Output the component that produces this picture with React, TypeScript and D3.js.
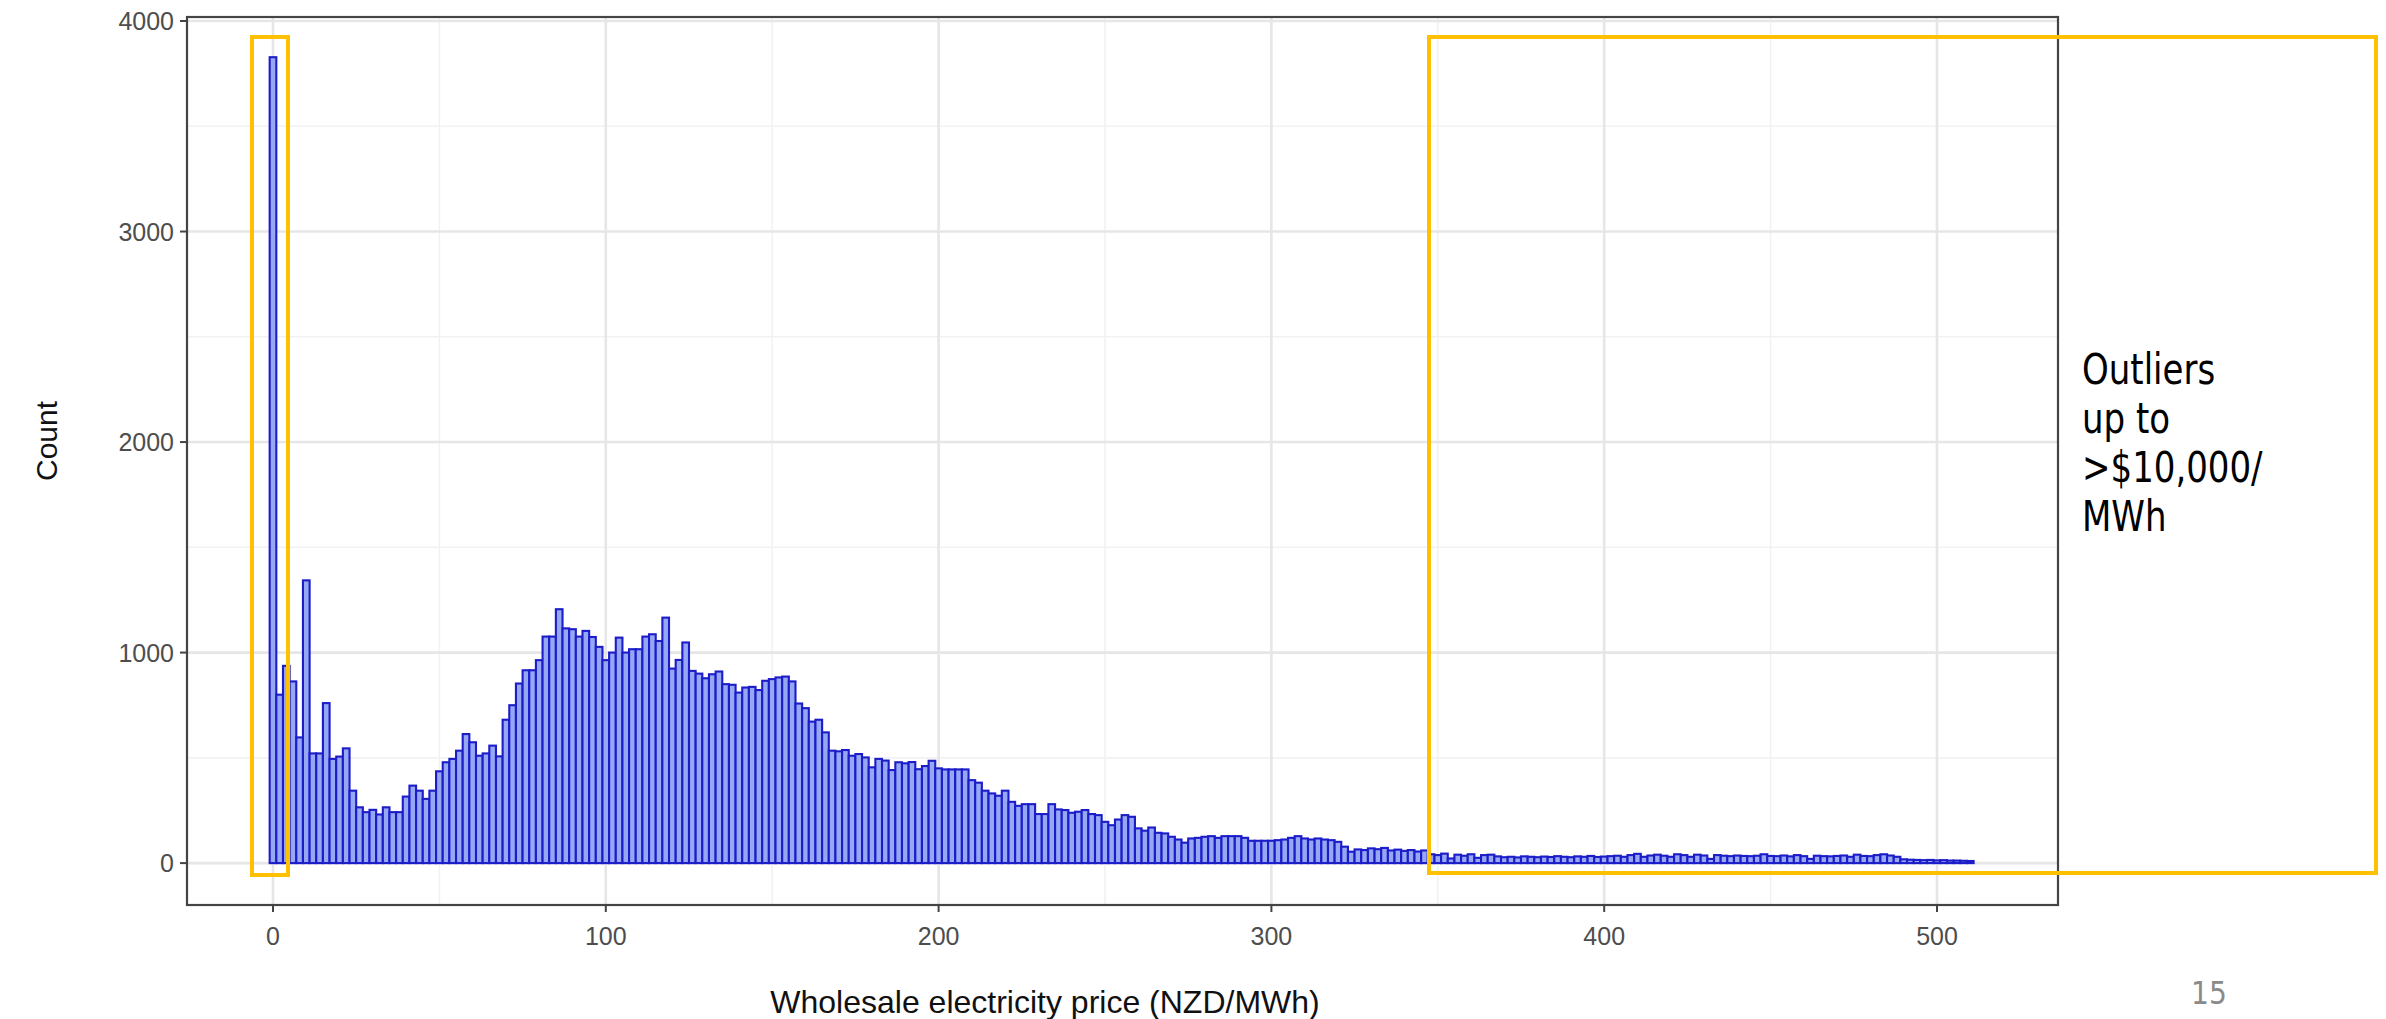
import React from "react";
import * as d3 from "d3";

const W = 2386;
const H = 1019;

// Histogram of half-hourly wholesale prices, 2-dollar bins centred on 0, 2, 4, ... 510
const binWidth = 2;
const binCentres = d3.range(0, 512, binWidth);

// counts per bin, in price order
const countsNearZero = [3828, 800, 937, 863, 597, 1343, 521, 521, 760, 495, 506, 545, 344, 265, 242, 253, 231, 265, 242, 242, 316, 368, 344, 305, 344, 436, 479, 495, 534, 613, 574];
const countsMainHump = [510, 521, 558, 507, 681, 750, 853, 916, 916, 964, 1076, 1076, 1206, 1115, 1111, 1076, 1103, 1074, 1027, 964, 1000, 1071, 1000, 1016, 1016, 1076, 1087, 1055, 1166, 924, 965, 1048, 913];
const countsShoulder = [900, 878, 897, 910, 850, 847, 810, 834, 837, 822, 866, 874, 882, 886, 863, 758, 736, 672, 681, 621, 534, 531, 537, 510, 518, 502, 455, 495, 487, 442, 479, 474, 480, 446];
const countsDecline = [461, 486, 450, 445, 445, 445, 445, 394, 382, 344, 331, 320, 344, 291, 272, 280, 280, 233, 233, 280, 255, 252, 239, 244, 252, 233, 228, 196, 180, 207, 228, 220, 165];
const countsPlateau = [154, 169, 144, 141, 125, 112, 97, 117, 120, 125, 128, 120, 128, 128, 128, 120, 106, 106, 106, 106, 109, 112, 120, 128, 117, 112, 117, 112, 109, 101, 78, 54, 65];
const countsTail = [
  62, 70, 66, 72, 60, 64, 58, 62, 55, 60,
  42, 38, 45, 22, 40, 35, 42, 25, 38, 40, 32, 28, 30, 27, 32, 30, 28, 31, 29, 33, 30, 28, 32, 30, 34, 29, 31, 33, 35, 30, 38, 44, 30, 36, 40, 35, 30, 42, 38,
  30, 40, 36, 20, 38, 35, 33, 36, 34, 33, 35, 42, 34, 33, 36, 32, 38, 33, 20, 35, 33, 32, 34, 36, 30, 40, 34, 33, 38, 42, 36, 30, 18, 16, 15, 14, 15, 13, 14, 12, 12, 11, 10,
];

const counts = [
  ...countsNearZero,
  ...countsMainHump,
  ...countsShoulder,
  ...countsDecline,
  ...countsPlateau,
  ...countsTail,
];

const xMajorTicks = [0, 100, 200, 300, 400, 500];
const xMinorTicks = [50, 150, 250, 350, 450];
const yMajorTicks = [0, 1000, 2000, 3000, 4000];
const yMinorTicks = [500, 1500, 2500, 3500];

const xTitle = "Wholesale electricity price (NZD/MWh)";
const yTitle = "Count";
const noteLines = ["Outliers", "up to", ">$10,000/", "MWh"];
const pageNumber = "15";

const panel = { left: 187, right: 2058, top: 17, bottom: 905 };

export default function App() {
  const x = d3.scaleLinear().domain([-25.84, 536.36]).range([panel.left, panel.right]);
  const y = d3.scaleLinear().domain([-199, 4019]).range([panel.bottom, panel.top]);

  const bars = binCentres.map((c, i) => ({ x0: c - binWidth / 2, x1: c + binWidth / 2, n: counts[i] ?? 0 }));

  const axisFont = "'Liberation Sans', Arial, Helvetica, sans-serif";
  const noteFont = "'DejaVu Sans', Verdana, sans-serif";

  return (
    <svg
      width={W}
      height={H}
      viewBox={`0 0 ${W} ${H}`}
      style={{ position: "absolute", left: 0, top: 0, display: "block", background: "#fff" }}
    >
      <defs>
        <clipPath id="panel-clip">
          <rect x={panel.left} y={panel.top} width={panel.right - panel.left} height={panel.bottom - panel.top} />
        </clipPath>
      </defs>
      <rect x={0} y={0} width={W} height={H} fill="#fff" />

      <g clipPath="url(#panel-clip)">
        {xMinorTicks.map((t) => (
          <line key={`xm${t}`} x1={x(t)} x2={x(t)} y1={panel.top} y2={panel.bottom} stroke="#f2f2f2" strokeWidth={1.6} />
        ))}
        {yMinorTicks.map((t) => (
          <line key={`ym${t}`} x1={panel.left} x2={panel.right} y1={y(t)} y2={y(t)} stroke="#f2f2f2" strokeWidth={1.6} />
        ))}
        {xMajorTicks.map((t) => (
          <line key={`xM${t}`} x1={x(t)} x2={x(t)} y1={panel.top} y2={panel.bottom} stroke="#e6e6e6" strokeWidth={2.6} />
        ))}
        {yMajorTicks.map((t) => (
          <line key={`yM${t}`} x1={panel.left} x2={panel.right} y1={y(t)} y2={y(t)} stroke="#e6e6e6" strokeWidth={2.6} />
        ))}
        {bars.map((b, i) => (
          <rect
            key={i}
            x={x(b.x0)}
            y={y(b.n)}
            width={x(b.x1) - x(b.x0)}
            height={y(0) - y(b.n)}
            fill="#96a8f4"
            stroke="#1c1cc8"
            strokeWidth={2.1}
          />
        ))}
      </g>

      <rect
        x={panel.left}
        y={panel.top}
        width={panel.right - panel.left}
        height={panel.bottom - panel.top}
        fill="none"
        stroke="#444"
        strokeWidth={2.2}
      />

      {xMajorTicks.map((t) => (
        <g key={`xt${t}`}>
          <line x1={x(t)} x2={x(t)} y1={panel.bottom} y2={panel.bottom + 7} stroke="#444" strokeWidth={2} />
          <text x={x(t)} y={945} textAnchor="middle" fontFamily={axisFont} fontSize={25} fill="#4d4d4d">
            {t}
          </text>
        </g>
      ))}
      {yMajorTicks.map((t) => (
        <g key={`yt${t}`}>
          <line x1={panel.left - 7} x2={panel.left} y1={y(t)} y2={y(t)} stroke="#444" strokeWidth={2} />
          <text x={panel.left - 13} y={y(t)} dy="0.36em" textAnchor="end" fontFamily={axisFont} fontSize={25} fill="#4d4d4d">
            {t}
          </text>
        </g>
      ))}

      <text x={1045} y={1013} textAnchor="middle" fontFamily={axisFont} fontSize={32} fill="#111">
        {xTitle}
      </text>
      <text
        transform={`translate(46, 441) rotate(-90)`}
        textAnchor="middle"
        dy="0.36em"
        fontFamily={axisFont}
        fontSize={30}
        fill="#111"
      >
        {yTitle}
      </text>

      {/* highlight boxes */}
      <rect x={252} y={37} width={36} height={838} fill="none" stroke="#ffc000" strokeWidth={4} />
      <rect x={1429} y={37} width={947} height={836} fill="none" stroke="#ffc000" strokeWidth={4} />

      <g transform="translate(2082, 0) scale(0.81, 1)">
        {noteLines.map((line, i) => (
          <text key={line} x={0} y={384 + i * 49} fontFamily={noteFont} fontSize={42} fill="#000">
            {line}
          </text>
        ))}
      </g>

      <g transform="translate(2209, 0) scale(0.88, 1)">
        <text x={0} y={1004} textAnchor="middle" fontFamily={noteFont} fontSize={32} fill="#8a8a8a">
          {pageNumber}
        </text>
      </g>
    </svg>
  );
}
